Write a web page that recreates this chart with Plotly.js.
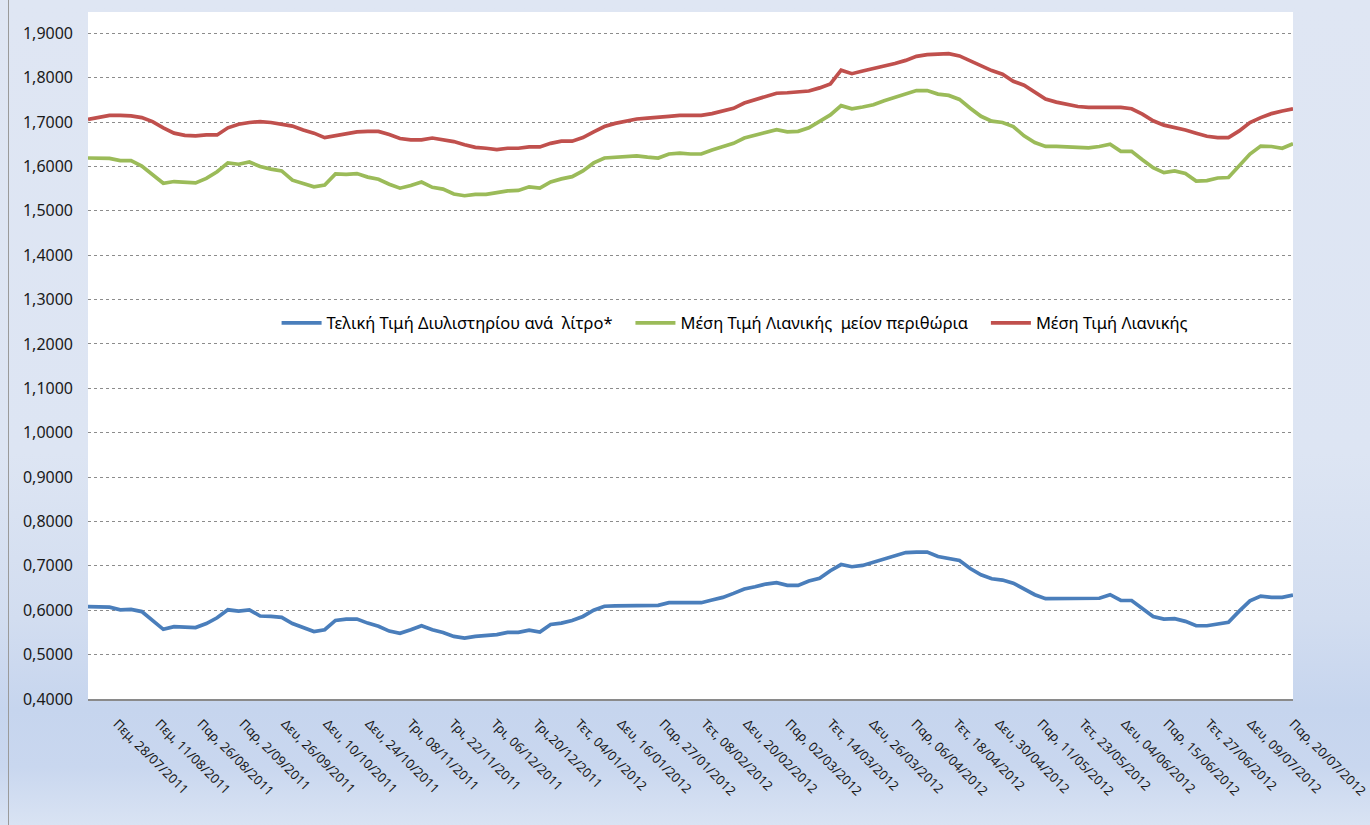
<!DOCTYPE html>
<html>
<head>
<meta charset="utf-8">
<script src="https://cdn.plot.ly/plotly-3.0.1.min.js"></script>
<style>
  html, body { margin: 0; padding: 0; }
  body {
    width: 1370px; height: 825px; overflow: hidden;
    background: linear-gradient(to bottom, #dfe6f3 0%, #dde5f3 55%, #d2ddf0 75%, #c6d5ee 86%, #c9d7ef 93%, #d9e3f3 100%);
  }
  #frame { position: absolute; left: 8px; top: 0; width: 1px; height: 825px; background: #9a9a9a; }
  #chart { position: absolute; left: 0; top: 0; width: 1370px; height: 825px; }
</style>
</head>
<body>
<div id="frame"></div>
<div id="chart"></div>
<script>
// Category (tick) labels
const tickLabels = [
  "Πεμ, 28/07/2011", "Πεμ, 11/08/2011", "Παρ, 26/08/2011", "Παρ, 2/09/2011",
  "Δευ, 26/09/2011", "Δευ, 10/10/2011", "Δευ, 24/10/2011", "Τρι, 08/11/2011",
  "Τρι, 22/11/2011", "Τρι, 06/12/2011", "Τρι,20/12/2011", "Τετ, 04/01/2012",
  "Δευ, 16/01/2012", "Παρ, 27/01/2012", "Τετ, 08/02/2012", "Δευ, 20/02/2012",
  "Παρ, 02/03/2012", "Τετ, 14/03/2012", "Δευ, 26/03/2012", "Παρ, 06/04/2012",
  "Τετ, 18/04/2012", "Δευ, 30/04/2012", "Παρ, 11/05/2012", "Τετ, 23/05/2012",
  "Δευ, 04/06/2012", "Παρ, 15/06/2012", "Τετ, 27/06/2012", "Δευ, 09/07/2012",
  "Παρ, 20/07/2012"
];
// data samples between consecutive labels (labels do not fall exactly on samples)
const pointsPerLabel = 3.904;

const seriesNames = [
  "Τελική Τιμή Διυλιστηρίου ανά\u00a0 λίτρο*\u00a0\u00a0\u00a0",
  "Μέση Τιμή Λιανικής\u00a0 μείον περιθώρια\u00a0\u00a0\u00a0",
  "Μέση Τιμή Λιανικής"
];

// Τελική Τιμή Διυλιστηρίου ανά λίτρο*
const refinery = [
  0.608,0.608,0.607,0.601,0.602,0.597,0.578,0.557,0.563,0.563,
  0.561,0.570,0.583,0.601,0.598,0.601,0.587,0.586,0.584,0.570,
  0.561,0.552,0.556,0.577,0.580,0.580,0.571,0.564,0.553,0.548,
  0.556,0.565,0.556,0.550,0.541,0.537,0.541,0.543,0.545,0.550,
  0.550,0.555,0.551,0.568,0.571,0.577,0.586,0.600,0.609,0.610,
  0.610,0.611,0.610,0.611,0.617,0.617,0.615,0.617,0.623,0.629,
  0.638,0.648,0.653,0.659,0.662,0.656,0.656,0.666,0.672,0.689,
  0.703,0.698,0.701,0.708,0.717,0.723,0.730,0.731,0.731,0.721,
  0.716,0.712,0.694,0.680,0.671,0.668,0.661,0.647,0.635,0.626,
  0.626,0.625,0.626,0.626,0.627,0.635,0.622,0.622,0.605,0.586,
  0.580,0.581,0.575,0.565,0.565,0.570,0.573,0.598,0.621,0.632,
  0.629,0.629,0.634
];

// Μέση Τιμή Λιανικής μείον περιθώρια
const retailLessMargin = [
  1.619,1.619,1.618,1.613,1.613,1.601,1.581,1.562,1.566,1.565,
  1.563,1.573,1.588,1.608,1.605,1.610,1.600,1.594,1.590,1.569,
  1.562,1.554,1.558,1.583,1.582,1.584,1.576,1.571,1.560,1.551,
  1.557,1.565,1.553,1.549,1.538,1.534,1.537,1.537,1.541,1.545,
  1.546,1.554,1.551,1.565,1.572,1.577,1.590,1.608,1.619,1.620,
  1.622,1.624,1.621,1.619,1.628,1.630,1.628,1.628,1.637,1.644,
  1.652,1.664,1.671,1.678,1.683,1.678,1.679,1.687,1.701,1.716,
  1.737,1.730,1.734,1.739,1.748,1.755,1.764,1.771,1.771,1.763,
  1.760,1.751,1.731,1.713,1.702,1.699,1.690,1.669,1.654,1.645,
  1.645,1.644,1.642,1.642,1.645,1.650,1.634,1.634,1.615,1.597,
  1.586,1.590,1.584,1.567,1.568,1.574,1.575,1.601,1.628,1.646,
  1.645,1.641,1.651
];

// Μέση Τιμή Λιανικής
const retail = [
  1.706,1.710,1.715,1.715,1.714,1.710,1.701,1.687,1.675,1.670,
  1.669,1.671,1.671,1.687,1.695,1.699,1.701,1.699,1.696,1.691,
  1.682,1.675,1.665,1.669,1.674,1.678,1.679,1.679,1.672,1.663,
  1.660,1.660,1.664,1.660,1.656,1.649,1.643,1.641,1.638,1.641,
  1.641,1.644,1.644,1.652,1.657,1.657,1.665,1.678,1.690,1.697,
  1.702,1.707,1.709,1.710,1.713,1.715,1.715,1.715,1.719,1.726,
  1.731,1.743,1.751,1.759,1.765,1.766,1.769,1.770,1.777,1.786,
  1.817,1.809,1.815,1.820,1.825,1.832,1.839,1.848,1.852,1.854,
  1.854,1.849,1.838,1.826,1.816,1.808,1.792,1.783,1.768,1.752,
  1.745,1.740,1.735,1.733,1.732,1.733,1.733,1.730,1.718,1.703,
  1.693,1.688,1.682,1.675,1.668,1.665,1.665,1.680,1.699,1.710,
  1.719,1.725,1.730
];

const seriesColors = ["#4a7ebb", "#9bbb59", "#c0504d"];
const seriesData = [refinery, retailLessMargin, retail];

const xIdx = refinery.map((_, i) => i);
const tickVals = tickLabels.map((_, k) => k * pointsPerLabel);

const traces = seriesData.map((vals, s) => ({
  type: "scatter",
  mode: "lines",
  x: xIdx,
  y: vals,
  name: seriesNames[s],
  line: { color: seriesColors[s], width: 3.7, shape: "linear" },
  hoverinfo: "skip"
}));

const layout = {
  width: 1370,
  height: 825,
  paper_bgcolor: "rgba(0,0,0,0)",
  plot_bgcolor: "#ffffff",
  separators: ",.",
  margin: { l: 88, r: 77, t: 12, b: 126, pad: 0 },
  font: { family: "Noto Sans, Open Sans, sans-serif", color: "#1a1a1a" },
  showlegend: true,
  legend: {
    orientation: "h",
    x: 0.537, xanchor: "center",
    y: 0.547, yanchor: "middle",
    bgcolor: "rgba(0,0,0,0)",
    font: { size: 16.5, color: "#000000", family: "Noto Sans, sans-serif" },
    itemwidth: 40,
    traceorder: "normal"
  },
  xaxis: {
    type: "linear",
    range: [0, xIdx.length - 1],
    tickmode: "array",
    tickvals: tickVals,
    ticktext: tickLabels,
    tickangle: 45,
    tickfont: { size: 13, color: "#1a1a1a" },
    ticklabelshift: 29,
    ticklabelstandoff: 10,
    ticklabeloverflow: "allow",
    showgrid: false,
    zeroline: false,
    showline: true,
    linecolor: "#8a8a8a",
    linewidth: 2,
    ticks: "",
    fixedrange: true
  },
  yaxis: {
    range: [0.4, 1.948],
    tick0: 0.4,
    dtick: 0.1,
    tickformat: ".4f",
    tickfont: { size: 16, color: "#1a1a1a" },
    showgrid: true,
    gridcolor: "#8c8c8c",
    griddash: "dot",
    gridwidth: 1,
    zeroline: false,
    showline: false,
    ticks: "",
    ticklabelstandoff: 14,
    fixedrange: true
  }
};

Plotly.newPlot("chart", traces, layout, { displayModeBar: false, staticPlot: true });
</script>
</body>
</html>
